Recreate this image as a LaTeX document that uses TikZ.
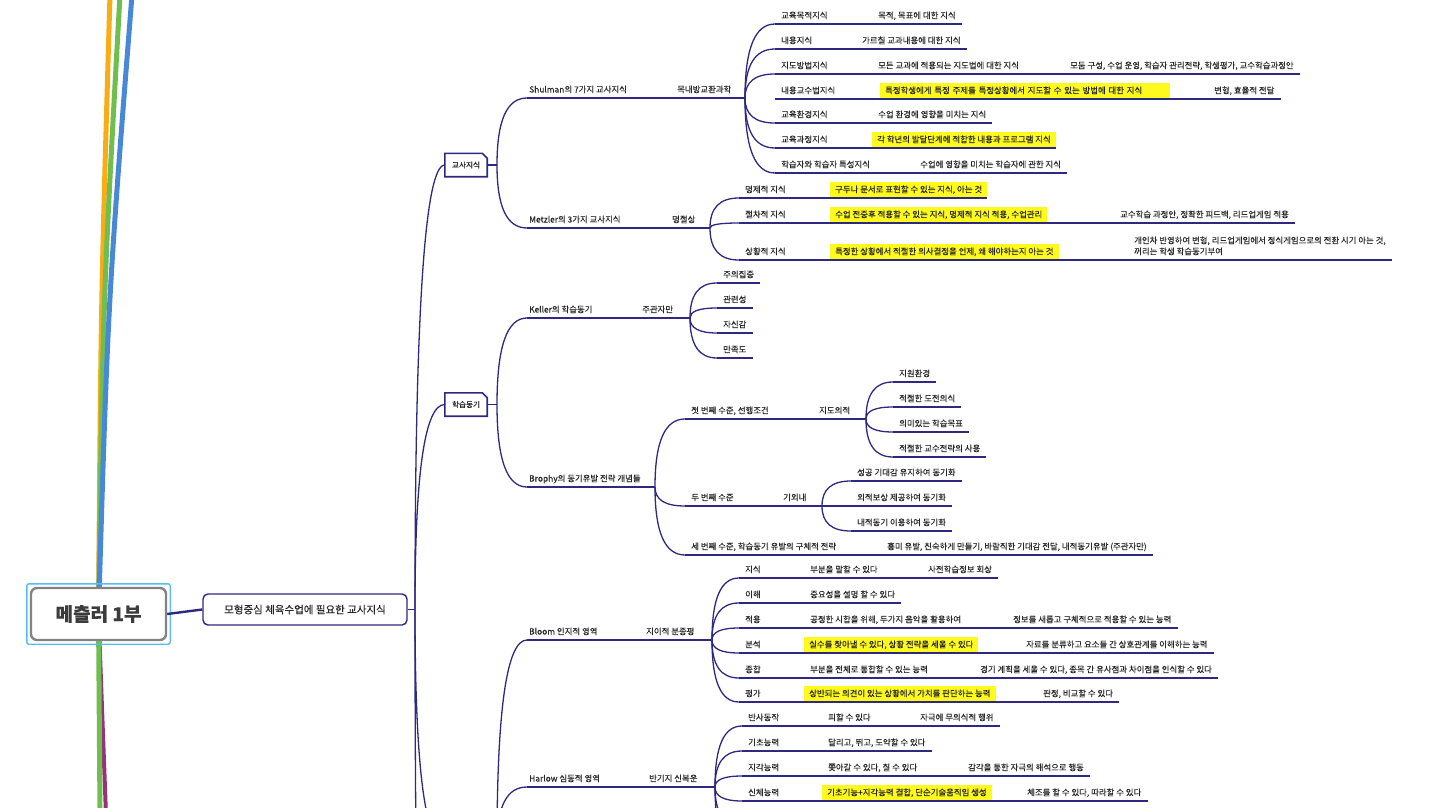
\documentclass[tikz,border=0pt]{standalone}
\usepackage{fontspec}
\setmainfont{Noto Sans CJK KR}[FakeBold=0.25]
\usetikzlibrary{calc,backgrounds}

\definecolor{linecol}{RGB}{46,40,128}
\definecolor{txtcol}{RGB}{40,40,40}
\definecolor{hlyel}{RGB}{255,250,30}
\definecolor{rootgray}{RGB}{130,130,135}
\definecolor{roottxt}{RGB}{60,60,60}
\definecolor{selblue}{RGB}{85,190,240}
\definecolor{brorange}{RGB}{250,172,20}
\definecolor{brgreen}{RGB}{112,190,80}
\definecolor{brblue}{RGB}{72,136,216}
\definecolor{brpurple}{RGB}{150,50,120}

\tikzset{
  conn/.style={draw=linecol, line width=1.3pt},
  topline/.style={draw=linecol, line width=2.4pt},
  offbranch/.style={line width=5pt},
  curvto/.style={to path={.. controls ($(\tikztostart)!0.67!(\tikztostart |- \tikztotarget)$) and ($(\tikztotarget)!0.67!(\tikztostart |- \tikztotarget)$) .. (\tikztotarget)}},
  leaf/.style={anchor=south west, font=\fontsize{8.4}{11}\selectfont, text=txtcol, inner xsep=6pt, inner ysep=3.3pt, text height=7.4pt, text depth=2pt},
  hilite/.style={leaf, fill=hlyel, inner xsep=5pt},
  topic/.style={leaf, inner xsep=2pt},
  rootbox/.style={draw=rootgray, fill=white, line width=2.4pt, rounded corners=6pt, minimum width=135pt, minimum height=52pt, text=roottxt, font=\fontsize{19}{22}\selectfont\bfseries},
  selbox/.style={draw=selblue, line width=1.4pt, rounded corners=2pt},
  mainbox/.style={draw=linecol, fill=white, line width=1.4pt, rounded corners=5pt, minimum width=204pt, minimum height=31pt, text=txtcol, font=\fontsize{10.5}{12}\selectfont},
  subbox/.style={fill=white, inner sep=0pt, minimum width=42pt, minimum height=23pt, text=txtcol, font=\fontsize{7.6}{9}\selectfont}
}

\begin{document}
\begin{tikzpicture}[x=1pt, y=-1pt]
\useasboundingbox (0,0) rectangle (1430,808);
\clip (0,0) rectangle (1430,808);

% Root
\node[rootbox] (root) at (98.5,614) {메츨러 1부};
\draw[selbox] ([shift={(-3,3)}]root.south west) rectangle ([shift={(3,-3)}]root.north east);

% Other main branches (off the map)
\coordinate (topA) at (110,-5);
\coordinate (topB) at (120,-5);
\coordinate (topC) at (132,-5);
\coordinate (botA) at (100,815);
\coordinate (botB) at (106,815);
\begin{scope}[on background layer]
  \draw[offbranch, brorange] (root.center) .. controls (101,300) .. (topA);
  \draw[offbranch, brgreen] (root.center) .. controls (103,300) .. (topB);
  \draw[offbranch, brblue] (root.center) .. controls (108,300) .. (topC);
  \draw[offbranch, brpurple, line width=4pt] (root.center) -- (botB);
  \draw[offbranch, brgreen] (root.center) -- (botA);
\end{scope}

% First topic
\node[mainbox] (lv1) at (305,609.5) {모형중심 체육수업에 필요한 교사지식};
\draw[conn, line width=2.4pt] (root.east) -- (lv1.west);
\coordinate (j1) at (415,609.5);
\draw[conn] (lv1.east) -- (j1);

% Second level
\node[subbox] (kt) at (466,165) {교사지식};
\node[subbox] (hm) at (466,404.5) {학습동기};
\foreach \b in {kt,hm}
  \draw[conn, line width=1.6pt] (\b.south west) -- (\b.north west) -- ([xshift=-5pt]\b.north east)
    -- ([yshift=-5pt]\b.north east) -- (\b.south east) -- cycle;
\coordinate (lv2c) at (445,845);
\coordinate (lv2d) at (445,1300);
\foreach \c in {kt.west,hm.west,lv2c,lv2d}
  \draw[conn] (j1) to[curvto] (\c);

\coordinate (ktj) at (497,165);
\coordinate (hmj) at (497,404.5);
\coordinate (lv2cj) at (497,845);
\draw[conn] (kt.east) -- (ktj);
\draw[conn] (hm.east) -- (hmj);

% Shulman
\node[topic] (shul) at (527,98) {Shulman의 7가지 교사지식};
\node[leaf] (shulm) at (671,98) {목내방교환과학};
\coordinate (shulj) at (745,98);
\draw[topline] (shul.south west) -- (shul.south east);
\draw[conn] (shul.south east) -- (shulj);

\node[leaf] (s1) at (775,24) {교육목적지식};
\node[leaf] (s1d) at (872,24) {목적, 목표에 대한 지식};
\node[leaf] (s2) at (775,49) {내용지식};
\node[leaf] (s2d) at (856,49) {가르칠 교과내용에 대한 지식};
\node[leaf] (s3) at (775,74) {지도방법지식};
\node[leaf] (s3d) at (872,74) {모든 교과에 적용되는 지도법에 대한 지식};
\node[leaf] (s3e) at (1064,74) {모둠 구성, 수업 운영, 학습자 관리전략, 학생평가, 교수학습과정안};
\node[leaf] (s4) at (775,99) {내용교수법지식};
\node[hilite, text width=280pt, align=left] (s4d) at (880,99) {특정학생에게 특정 주제를 특정상황에서 지도할 수 있는 방법에 대한 지식};
\node[leaf] (s4e) at (1208,99) {변형, 효율적 전달};
\node[leaf] (s5) at (775,123) {교육환경지식};
\node[leaf] (s5d) at (872,123) {수업 환경에 영향을 미치는 지식};
\node[leaf] (s6) at (775,148) {교육과정지식};
\node[hilite] (s6d) at (872,148) {각 학년의 발달단계에 적합한 내용과 프로그램 지식};
\node[leaf] (s7) at (775,173) {학습자와 학습자 특성지식};
\node[leaf] (s7d) at (914,173) {수업에 영향을 미치는 학습자에 관한 지식};
\draw[conn] (s1.south west) -- (s1d.south east);
\draw[conn] (s2.south west) -- (s2d.south east);
\draw[conn] (s3.south west) -- (s3e.south east);
\draw[conn] (s4.south west) -- (s4e.south east);
\draw[conn] (s5.south west) -- (s5d.south east);
\draw[conn] (s6.south west) -- (s6d.south east);
\draw[conn] (s7.south west) -- (s7d.south east);
\foreach \c in {s1,s2,s3,s5,s6,s7}
  \draw[conn] (shulj) to[curvto] (\c.south west);

% Metzler
\node[topic] (met) at (527,228) {Metzler의 3가지 교사지식};
\node[leaf] (metm) at (666,228) {명절상};
\coordinate (metj) at (710,228);
\draw[topline] (met.south west) -- (met.south east);
\draw[conn] (met.south east) -- (metj);

\node[leaf] (m1) at (739,198) {명제적 지식};
\node[hilite] (m1d) at (830,198) {구두나 문서로 표현할 수 있는 지식, 아는 것};
\node[leaf] (m2) at (739,223) {절차적 지식};
\node[hilite] (m2d) at (830,223) {수업 전중후 적용할 수 있는 지식, 명제적 지식 적용, 수업관리};
\node[leaf] (m2e) at (1114,223) {교수학습 과정안, 정확한 피드백, 리드업게임 적용};
\node[leaf] (m3) at (739,260) {상황적 지식};
\node[hilite] (m3d) at (830,260) {특정한 상황에서 적절한 의사결정을 언제, 왜 해야하는지 아는 것};
\node[leaf, align=left, text height=17pt] (m3e) at (1128,260) {개인차 반영하여 변형, 리드업게임에서 정식게임으로의 전환 시기 아는 것,\\꺼리는 학생 학습동기부여};
\draw[conn] (m1.south west) -- (m1d.south east);
\draw[conn] (m2.south west) -- (m2e.south east);
\draw[conn] (m3.south west) -- (m3e.south east);
\foreach \c in {m1,m2,m3}
  \draw[conn] (metj) to[curvto] (\c.south west);

\foreach \c in {shul,met}
  \draw[conn] (ktj) to[curvto] (\c.south west);

% Keller
\node[topic] (kel) at (527,318) {Keller의 학습동기};
\node[leaf] (kelm) at (636,318) {주관자만};
\coordinate (kelj) at (690,318);
\draw[topline] (kel.south west) -- (kel.south east);
\draw[conn] (kel.south east) -- (kelj);

\node[leaf] (k1) at (717,283) {주의집중};
\node[leaf] (k2) at (717,308) {관련성};
\node[leaf] (k3) at (717,333) {자신감};
\node[leaf] (k4) at (717,358) {만족도};
\foreach \c in {k1,k2,k3,k4} {
  \draw[conn] (\c.south west) -- (\c.south east);
  \draw[conn] (kelj) to[curvto] (\c.south west);
}

% Brophy
\node[topic] (bro) at (527,487) {Brophy의 동기유발 전략 개념들};
\coordinate (broj) at (655,487);
\draw[topline] (bro.south west) -- (bro.south east);
\draw[conn] (bro.south east) -- (broj);

\node[leaf] (b1) at (685,419) {첫 번째 수준, 선행조건};
\node[leaf] (b1m) at (813,419) {지도의적};
\coordinate (b1j) at (866,419);
\draw[conn] (b1.south west) -- (b1j);
\node[leaf] (b11) at (893,382) {지원환경};
\node[leaf] (b12) at (893,407) {적절한 도전의식};
\node[leaf] (b13) at (893,432) {의미있는 학습목표};
\node[leaf] (b14) at (893,457) {적절한 교수전략의 사용};
\foreach \c in {b11,b12,b13,b14} {
  \draw[conn] (\c.south west) -- (\c.south east);
  \draw[conn] (b1j) to[curvto] (\c.south west);
}

\node[leaf] (b2) at (685,506) {두 번째 수준};
\node[leaf] (b2m) at (777,506) {기외내};
\coordinate (b2j) at (822,506);
\draw[conn] (b2.south west) -- (b2j);
\node[leaf] (b21) at (851,481) {성공 기대감 유지하여 동기화};
\node[leaf] (b22) at (851,506) {외적보상 제공하여 동기화};
\node[leaf] (b23) at (851,531) {내적동기 이용하여 동기화};
\foreach \c in {b21,b22,b23} {
  \draw[conn] (\c.south west) -- (\c.south east);
  \draw[conn] (b2j) to[curvto] (\c.south west);
}

\node[leaf] (b3) at (685,555) {세 번째 수준, 학습동기 유발의 구체적 전략};
\node[leaf] (b3d) at (881,555) {흥미 유발, 친숙하게 만들기, 바람직한 기대감 전달, 내적동기유발 (주관자만)};
\draw[conn] (b3.south west) -- (b3d.south east);
\foreach \c in {b1,b2,b3}
  \draw[conn] (broj) to[curvto] (\c.south west);

\foreach \c in {kel,bro}
  \draw[conn] (hmj) to[curvto] (\c.south west);

% Bloom
\node[topic] (blo) at (527,640) {Bloom 인지적 영역};
\node[leaf] (blom) at (640,640) {지이적 분종평};
\coordinate (bloj) at (712,640);
\draw[topline] (blo.south west) -- (blo.south east);
\draw[conn] (blo.south east) -- (bloj);

\node[leaf] (l1) at (739,578) {지식};
\node[leaf] (l1d) at (804,578) {부분을 말할 수 있다};
\node[leaf] (l1e) at (922,578) {사전학습정보 회상};
\node[leaf] (l2) at (739,603) {이해};
\node[leaf] (l2d) at (804,603) {중요성을 설명 할 수 있다};
\node[leaf] (l3) at (739,628) {적용};
\node[leaf] (l3d) at (804,628) {공정한 시합을 위해, 두가지 음악을 활용하여};
\node[leaf] (l3e) at (1007,628) {정보를 새롭고 구체적으로 적용할 수 있는 능력};
\node[leaf] (l4) at (739,653) {분석};
\node[hilite] (l4d) at (804,653) {실수를 찾아낼 수 있다, 상황 전략을 세울 수 있다};
\node[leaf] (l4e) at (1020,653) {자료를 분류하고 요소들 간 상호관계를 이해하는 능력};
\node[leaf] (l5) at (739,678) {종합};
\node[leaf] (l5d) at (804,678) {부분을 전체로 통합할 수 있는 능력};
\node[leaf] (l5e) at (974,678) {경기 계획을 세울 수 있다, 종목 간 유사점과 차이점을 인식할 수 있다};
\node[leaf] (l6) at (739,702) {평가};
\node[hilite] (l6d) at (804,702) {상반되는 의견이 있는 상황에서 가치를 판단하는 능력};
\node[leaf] (l6e) at (1037,702) {판정, 비교할 수 있다};
\draw[conn] (l1.south west) -- (l1e.south east);
\draw[conn] (l2.south west) -- (l2d.south east);
\draw[conn] (l3.south west) -- (l3e.south east);
\draw[conn] (l4.south west) -- (l4e.south east);
\draw[conn] (l5.south west) -- (l5e.south east);
\draw[conn] (l6.south west) -- (l6e.south east);
\foreach \c in {l1,l2,l3,l4,l5,l6}
  \draw[conn] (bloj) to[curvto] (\c.south west);

% Harlow
\node[topic] (har) at (527,787) {Harlow 심동적 영역};
\node[leaf] (harm) at (643,787) {반기지 신복운};
\coordinate (harj) at (715,787);
\draw[topline] (har.south west) -- (har.south east);
\draw[conn] (har.south east) -- (harj);

\node[leaf] (h1) at (742,726) {반사동작};
\node[leaf] (h1d) at (822,726) {피할 수 있다};
\node[leaf] (h1e) at (914,726) {자극에 무의식적 행위};
\node[leaf] (h2) at (742,751) {기초능력};
\node[leaf] (h2d) at (822,751) {달리고, 뛰고, 도약할 수 있다};
\node[leaf] (h3) at (742,776) {지각능력};
\node[leaf] (h3d) at (822,776) {쫓아갈 수 있다, 칠 수 있다};
\node[leaf] (h3e) at (962,776) {감각을 통한 자극의 해석으로 행동};
\node[leaf] (h4) at (742,801) {신체능력};
\node[hilite] (h4d) at (822,801) {기초기능+지각능력 결합, 단순기술움직임 생성};
\node[leaf] (h4e) at (1021,801) {체조를 할 수 있다, 따라할 수 있다};
\coordinate (h5) at (742,826);
\coordinate (h6) at (742,851);
\draw[conn] (h1.south west) -- (h1e.south east);
\draw[conn] (h2.south west) -- (h2d.south east);
\draw[conn] (h3.south west) -- (h3e.south east);
\draw[conn] (h4.south west) -- (h4e.south east);
\foreach \c in {h1.south west,h2.south west,h3.south west,h4.south west,h5,h6}
  \draw[conn] (harj) to[curvto] (\c);

\foreach \c in {blo,har}
  \draw[conn] (lv2cj) to[curvto] (\c.south west);

\end{tikzpicture}
\end{document}
